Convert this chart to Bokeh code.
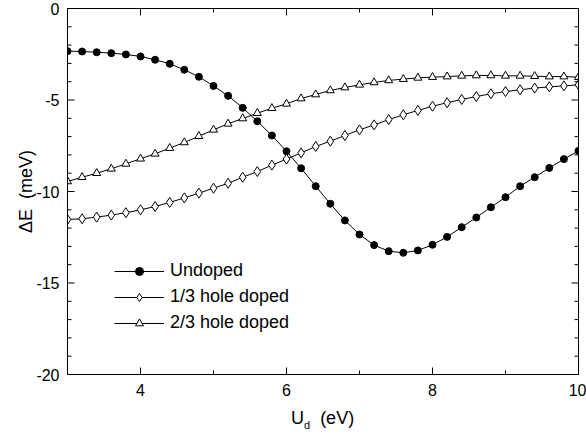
from bokeh.plotting import figure
from bokeh.models import LinearAxis, FixedTicker, Range1d, Div
from bokeh.layouts import column
from bokeh.embed import file_html
from bokeh.resources import INLINE

u_d = [3.0, 3.2, 3.4, 3.6, 3.8, 4.0, 4.2, 4.4, 4.6, 4.8,
       5.0, 5.2, 5.4, 5.6, 5.8, 6.0, 6.2, 6.4, 6.6, 6.8,
       7.0, 7.2, 7.4, 7.6, 7.8, 8.0, 8.2, 8.4, 8.6, 8.8,
       9.0, 9.2, 9.4, 9.6, 9.8, 10.0]

undoped = [-2.33, -2.35, -2.39, -2.44, -2.51, -2.62, -2.80, -3.02, -3.35, -3.73,
           -4.23, -4.77, -5.43, -6.16, -6.94, -7.80, -8.73, -9.71, -10.67, -11.58,
           -12.35, -12.93, -13.26, -13.35, -13.22, -12.91, -12.48, -11.95, -11.42, -10.86,
           -10.31, -9.71, -9.22, -8.71, -8.23, -7.78]

hole_1_3 = [-11.53, -11.49, -11.40, -11.29, -11.16, -11.00, -10.82, -10.60, -10.35, -10.09,
            -9.82, -9.55, -9.22, -8.91, -8.56, -8.23, -7.89, -7.54, -7.25, -6.94,
            -6.63, -6.36, -6.07, -5.81, -5.57, -5.34, -5.15, -4.97, -4.81, -4.66,
            -4.54, -4.44, -4.35, -4.28, -4.23, -4.17]

hole_2_3 = [-9.45, -9.22, -9.00, -8.76, -8.49, -8.21, -7.94, -7.63, -7.32, -6.98,
            -6.63, -6.30, -6.01, -5.72, -5.45, -5.21, -4.92, -4.70, -4.48, -4.32,
            -4.17, -4.04, -3.93, -3.86, -3.79, -3.75, -3.72, -3.68, -3.66, -3.66,
            -3.68, -3.68, -3.70, -3.72, -3.72, -3.75]

series_labels = ["Undoped", "1/3 hole doped", "2/3 hole doped"]

x_major = [4, 6, 8, 10]
x_minor = [3, 5, 7, 9]
y_major = [0, -5, -10, -15, -20]
y_minor = [-1, -2, -3, -4, -6, -7, -8, -9, -11, -12, -13, -14, -16, -17, -18, -19]

X_MIN, X_MAX, Y_MIN, Y_MAX = 3, 10, -20, 0

FONT = "Liberation Sans"
NB = "\u00a0"

FRAME_W, FRAME_H = 511, 366

p = figure(width=586, height=404, output_backend="svg", toolbar_location=None,
           x_range=Range1d(X_MIN, X_MAX), y_range=Range1d(Y_MIN, Y_MAX),
           min_border_left=67, min_border_right=8, min_border_top=8, min_border_bottom=30)
p.outline_line_color = "black"
p.outline_line_width = 1
p.grid.visible = False
p.background_fill_color = "white"
p.border_fill_color = "white"


def style_axis(ax, show_labels=True):
    ax.axis_line_color = "black"
    ax.axis_line_width = 1
    ax.major_tick_in = 0
    ax.major_tick_out = 0
    ax.minor_tick_in = 0
    ax.minor_tick_out = 0
    ax.major_label_text_font = FONT
    if show_labels:
        ax.major_label_text_color = "black"
        ax.major_label_text_font_size = "16px"
        ax.major_label_standoff = 9
    else:
        ax.major_label_text_color = None
        ax.major_label_text_font_size = "0px"
        ax.major_label_standoff = 0
    ax.axis_label_text_font = FONT
    ax.axis_label_text_font_style = "normal"
    ax.axis_label_text_font_size = "18px"
    ax.axis_label_text_color = "black"


p.xaxis.ticker = FixedTicker(ticks=x_major, minor_ticks=x_minor)
p.yaxis.ticker = FixedTicker(ticks=y_major, minor_ticks=y_minor)
style_axis(p.xaxis[0])
style_axis(p.yaxis[0])
p.xaxis.major_label_overrides = {t: str(t) for t in x_major}
p.yaxis.major_label_overrides = {t: str(t) for t in y_major}
p.yaxis.major_label_standoff = 8
p.yaxis.axis_label = "\u0394E" + NB + NB + "(meV)"
p.yaxis.axis_label_standoff = -3

top = LinearAxis(ticker=FixedTicker(ticks=x_major, minor_ticks=x_minor))
style_axis(top, show_labels=False)
p.add_layout(top, "above")
right = LinearAxis(ticker=FixedTicker(ticks=y_major, minor_ticks=y_minor))
style_axis(right, show_labels=False)
p.add_layout(right, "right")

# inward tick marks on all four sides (derived from the tick lists)
dx_maj, dx_min = 7 * (X_MAX - X_MIN) / FRAME_W, 4 * (X_MAX - X_MIN) / FRAME_W
dy_maj, dy_min = 7 * (Y_MAX - Y_MIN) / FRAME_H, 4 * (Y_MAX - Y_MIN) / FRAME_H
for ticks, dy in ((x_major, dy_maj), (x_minor, dy_min)):
    n = len(ticks)
    p.segment(x0=ticks, y0=[Y_MIN] * n, x1=ticks, y1=[Y_MIN + dy] * n, line_color="black", line_width=1)
    p.segment(x0=ticks, y0=[Y_MAX] * n, x1=ticks, y1=[Y_MAX - dy] * n, line_color="black", line_width=1)
for ticks, dx in ((y_major, dx_maj), (y_minor, dx_min)):
    n = len(ticks)
    p.segment(x0=[X_MIN] * n, y0=ticks, x1=[X_MIN + dx] * n, y1=ticks, line_color="black", line_width=1)
    p.segment(x0=[X_MAX] * n, y0=ticks, x1=[X_MAX - dx] * n, y1=ticks, line_color="black", line_width=1)

# series
p.line(u_d, undoped, line_color="black", line_width=1, legend_label=series_labels[0])
p.scatter(u_d, undoped, marker="circle", size=7, fill_color="black", line_color="black",
          legend_label=series_labels[0])

p.line(u_d, hole_1_3, line_color="black", line_width=1, legend_label=series_labels[1])
p.scatter(u_d, hole_1_3, marker="diamond", size=10, fill_color="white", line_color="black",
          line_width=1, legend_label=series_labels[1])

p.line(u_d, hole_2_3, line_color="black", line_width=1, legend_label=series_labels[2])
p.scatter(u_d, hole_2_3, marker="triangle", size=8, fill_color="white", line_color="black",
          line_width=1, legend_label=series_labels[2])

lg = p.legend[0]
lg.location = (47, 41)
lg.border_line_color = None
lg.background_fill_alpha = 0
lg.padding = 0
lg.margin = 0
lg.spacing = 5
lg.glyph_width = 50
lg.glyph_height = 20
lg.label_height = 20
lg.label_standoff = 6
lg.label_text_font = FONT
lg.label_text_font_size = "18px"
lg.label_text_color = "black"

# x-axis title with a real subscript
xlabel = Div(
    text=('<div style="padding-left:291px; padding-top:3px; font-family:\'Liberation Sans\';'
          ' font-size:18px; line-height:22px; color:black; white-space:nowrap;">'
          'U<sub style="font-size:11px;">d</sub>&nbsp;&nbsp;(eV)</div>'),
    width=586, height=35, margin=(0, 0, 0, 0))

layout = column(p, xlabel, spacing=0)

open("out.html", "w").write(file_html(layout, INLINE))
